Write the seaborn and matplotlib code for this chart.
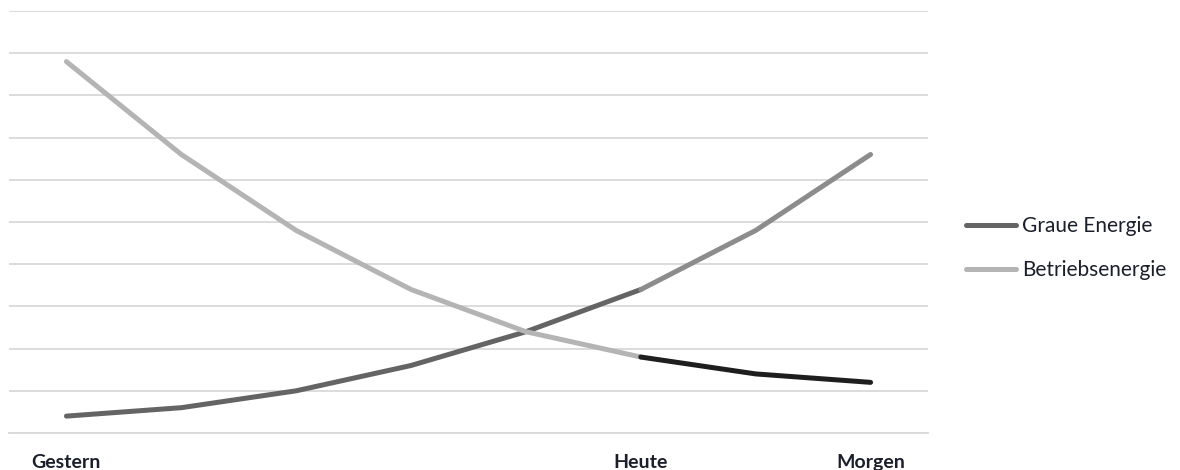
import seaborn as sns
import matplotlib.pyplot as plt
import pandas as pd
from matplotlib.lines import Line2D

# Zeitachse und Werte
labels = ["Gestern", "", "", "", "", "Heute", "", "Morgen"]
graue_energie = [0.4, 0.6, 1.0, 1.6, 2.4, 3.4, 4.8, 6.6]
betriebsenergie = [8.8, 6.6, 4.8, 3.4, 2.4, 1.8, 1.4, 1.2]
heute = 5

sns.set_theme(style="white")
plt.rcParams['font.family'] = ['Lato', 'DejaVu Sans']

fig = plt.figure(figsize=(11.8, 4.7), dpi=100)
ax = fig.add_axes([9 / 1180, 37 / 470, 919 / 1180, 422 / 470])

idx = list(range(len(labels)))
df = pd.DataFrame({"x": idx, "graue": graue_energie, "betrieb": betriebsenergie})
vorher = df[df.x <= heute]
nachher = df[df.x >= heute]

lw = 3.6
kw = dict(linewidth=lw, solid_capstyle="round", solid_joinstyle="round", ax=ax, legend=False)
sns.lineplot(data=vorher, x="x", y="graue", color="#646464", **kw)
sns.lineplot(data=nachher, x="x", y="graue", color="#8c8c8c", **kw)
sns.lineplot(data=vorher, x="x", y="betrieb", color="#b4b4b4", **kw)
sns.lineplot(data=nachher, x="x", y="betrieb", color="#1e1e1e", **kw)

ax.set_xlim(-0.5, len(labels) - 0.5)
ax.set_ylim(0, 10)
ax.set_yticks(range(0, 11))
ax.set_yticklabels([])
ax.grid(axis="y", color="#d9d9d9", linewidth=1.3)
ax.set_axisbelow(True)
for s in ["top", "left", "right"]:
    ax.spines[s].set_visible(False)
ax.spines["bottom"].set_color("#d9d9d9")
ax.spines["bottom"].set_linewidth(1.3)

pos = [i for i, l in enumerate(labels) if l]
ax.set_xticks(pos)
ax.set_xticklabels([labels[i] for i in pos], fontsize=14, fontweight="bold", color="#1b1f2b")
ax.tick_params(axis="x", length=0, pad=15)
ax.tick_params(axis="y", length=0)
ax.set_xlabel("")
ax.set_ylabel("")

handles = [Line2D([], [], color="#646464", linewidth=lw, solid_capstyle="round"),
           Line2D([], [], color="#b4b4b4", linewidth=lw, solid_capstyle="round")]
fig.legend(handles, ["Graue Energie", "Betriebsenergie"], loc="center left",
           bbox_to_anchor=(947 / 1180, 1 - 248 / 470), frameon=False, fontsize=15,
           handlelength=2.4, handletextpad=0.3, labelspacing=1.15, labelcolor="#1b1f2b")

fig.savefig("out.png", dpi=100)
